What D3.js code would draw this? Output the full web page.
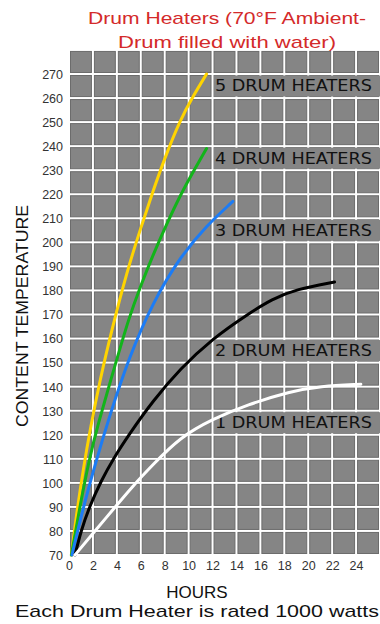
<!DOCTYPE html>
<html><head><meta charset="utf-8">
<script src="https://cdn.jsdelivr.net/npm/d3@7"></script>
<style>html,body{margin:0;padding:0;background:#fff;}svg{display:block;}</style>
</head><body>
<svg id="c" width="380" height="624"></svg>
<script>
const hoursTicks = [0,2,4,6,8,10,12,14,16,18,20,22,24];
const tempTicks = [70,80,90,100,110,120,130,140,150,160,170,180,190,200,210,220,230,240,250,260,270];
const seriesNames = ["5 DRUM HEATERS","4 DRUM HEATERS","3 DRUM HEATERS","2 DRUM HEATERS","1 DRUM HEATERS"];
const seriesColors = ["#ffd400","#12b41a","#1c7cf5","#000000","#ffffff"];
const labelLevels = [265,235,205,155,125];
const heat5 = [[0.2,70],[0.6,86],[1.2,106],[1.8,123],[2.6,143],[3.6,164],[4.85,188],[6,206],[7,221],[8,235],[9.3,251],[10.4,261],[11.5,270]];
const heat4 = [[0.2,70],[0.9,90],[1.7,110],[2.4,124],[3.8,148],[5,168.5],[6,182],[7,194.5],[8.2,208],[9.3,219.5],[10.4,229.5],[11.5,239]];
const heat3 = [[0.25,70],[1.1,88],[2.2,108],[3.4,128],[5,152],[7,175],[9.3,194],[11.5,207],[13.7,217]];
const heat2 = [[0.5,70],[1,80],[1.7,90],[2.7,101],[3.7,110],[5,120],[7,134],[9.3,147.5],[12,160],[14.9,170],[17,176.5],[19,180.5],[22.2,183.5]];
const heat1 = [[0.5,70],[2,79],[3.7,89],[5.3,98.5],[7,107.5],[9.3,119],[12,126.5],[14.9,132.5],[18.5,138],[21,140.2],[24.4,141]];
const allSeries = [heat5,heat4,heat3,heat2,heat1];

const svg = d3.select("#c");
const x = d3.scaleLinear().domain([0,26]).range([69,380]);
const y = d3.scaleLinear().domain([70,270]).range([555,74]);

// title
const title = svg.append("g").attr("fill","#d42a2a").attr("font-family","Liberation Sans, Arial, sans-serif").attr("font-size",17).attr("text-anchor","middle");
title.append("text").attr("x",227).attr("y",24).attr("textLength",278).attr("lengthAdjust","spacingAndGlyphs").text("Drum Heaters (70°F Ambient-");
title.append("text").attr("x",227).attr("y",48).attr("textLength",218).attr("lengthAdjust","spacingAndGlyphs").text("Drum filled with water)");

// grid cells
const xs = d3.range(0,26,2);
const ys = d3.range(70,280,10);
const cells = [];
xs.forEach(h=>ys.forEach(t=>cells.push([h,t])));
const gap = 1.5;
svg.append("g").selectAll("rect").data(cells).join("rect")
  .attr("x",d=>x(d[0])+gap)
  .attr("y",d=>y(d[1]+10)+gap)
  .attr("width",d=>Math.min(x(d[0]+2),382)-x(d[0])-2*gap)
  .attr("height",d=>y(d[1])-y(d[1]+10)-2*gap)
  .attr("fill","#858585")
  .attr("stroke","#6c6c6c").attr("stroke-width",1);

// y axis labels
const yAxis = d3.axisLeft(y).tickValues(tempTicks).tickSize(0).tickPadding(0);
const yg = svg.append("g").attr("transform","translate(63,0)").call(yAxis);
yg.select(".domain").remove();
yg.selectAll("text").attr("font-family","Liberation Sans, Arial, sans-serif").attr("font-size",12.5).attr("fill","#333").attr("dy","0.35em");

// x axis labels
const xAxis = d3.axisBottom(x).tickValues(hoursTicks).tickSize(0).tickPadding(0);
const xg = svg.append("g").attr("transform","translate(0,566)").call(xAxis);
xg.select(".domain").remove();
xg.selectAll("text").attr("font-family","Liberation Sans, Arial, sans-serif").attr("font-size",12.5).attr("fill","#333").attr("dy","0.35em");

// axis titles
svg.append("text").attr("transform","translate(28,316) rotate(-90)").attr("text-anchor","middle")
  .attr("font-family","Liberation Sans, Arial, sans-serif").attr("font-size",17).attr("fill","#111")
  .attr("textLength",222).attr("lengthAdjust","spacingAndGlyphs").text("CONTENT TEMPERATURE");
svg.append("text").attr("x",197).attr("y",598).attr("text-anchor","middle")
  .attr("font-family","Liberation Sans, Arial, sans-serif").attr("font-size",17).attr("fill","#111").text("HOURS");
svg.append("text").attr("x",197).attr("y",617).attr("text-anchor","middle")
  .attr("font-family","Liberation Sans, Arial, sans-serif").attr("font-size",17).attr("fill","#111")
  .attr("textLength",364).attr("lengthAdjust","spacingAndGlyphs").text("Each Drum Heater is rated 1000 watts");

// labels
const lab = svg.append("g");
seriesNames.forEach((n,i)=>{
  lab.append("rect").attr("x",x(12)+gap).attr("y",y(labelLevels[i]+5)+gap).attr("width",x(26)-x(12)).attr("height",y(labelLevels[i]-5)-y(labelLevels[i]+5)-2*gap).attr("fill","#858585");
  lab.append("text").attr("x",x(12.2)).attr("y",y(labelLevels[i])).attr("dy","0.36em")
    .attr("font-family","DejaVu Sans, sans-serif").attr("font-size",15).attr("fill","#111")
    .attr("textLength",157).attr("lengthAdjust","spacingAndGlyphs").text(n);
});

// curves
const line = d3.line().x(d=>x(d[0])).y(d=>y(d[1])).curve(d3.curveBasis);
svg.append("g").selectAll("path").data(allSeries).join("path")
  .attr("d",line).attr("fill","none")
  .attr("stroke",(d,i)=>seriesColors[i]).attr("stroke-width",3).attr("stroke-linecap","round");
</script>
</body></html>
